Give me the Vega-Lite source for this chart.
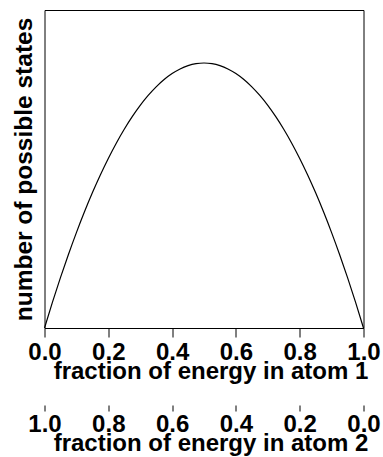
{
  "$schema": "https://vega.github.io/schema/vega-lite/v6.json",
  "autosize": "none",
  "width": 319,
  "height": 318,
  "padding": {"left": 44.5, "top": 10, "right": 19.5, "bottom": 129},
  "background": "white",
  "config": {
    "view": {"stroke": "black", "strokeWidth": 1},
    "font": "Liberation Sans"
  },
  "data": {
    "values": [
      {"x": 0, "y": 0},
      {"x": 0.025, "y": 0.024375},
      {"x": 0.05, "y": 0.0475},
      {"x": 0.075, "y": 0.069375},
      {"x": 0.1, "y": 0.09},
      {"x": 0.125, "y": 0.109375},
      {"x": 0.15, "y": 0.1275},
      {"x": 0.175, "y": 0.144375},
      {"x": 0.2, "y": 0.16},
      {"x": 0.225, "y": 0.174375},
      {"x": 0.25, "y": 0.1875},
      {"x": 0.275, "y": 0.199375},
      {"x": 0.3, "y": 0.21},
      {"x": 0.325, "y": 0.219375},
      {"x": 0.35, "y": 0.2275},
      {"x": 0.375, "y": 0.234375},
      {"x": 0.4, "y": 0.24},
      {"x": 0.425, "y": 0.244375},
      {"x": 0.45, "y": 0.2475},
      {"x": 0.475, "y": 0.249375},
      {"x": 0.5, "y": 0.25},
      {"x": 0.525, "y": 0.249375},
      {"x": 0.55, "y": 0.2475},
      {"x": 0.575, "y": 0.244375},
      {"x": 0.6, "y": 0.24},
      {"x": 0.625, "y": 0.234375},
      {"x": 0.65, "y": 0.2275},
      {"x": 0.675, "y": 0.219375},
      {"x": 0.7, "y": 0.21},
      {"x": 0.725, "y": 0.199375},
      {"x": 0.75, "y": 0.1875},
      {"x": 0.775, "y": 0.174375},
      {"x": 0.8, "y": 0.16},
      {"x": 0.825, "y": 0.144375},
      {"x": 0.85, "y": 0.1275},
      {"x": 0.875, "y": 0.109375},
      {"x": 0.9, "y": 0.09},
      {"x": 0.925, "y": 0.069375},
      {"x": 0.95, "y": 0.0475},
      {"x": 0.975, "y": 0.024375},
      {"x": 1, "y": 0}
    ]
  },
  "layer": [
    {
      "mark": {"type": "line", "color": "black", "strokeWidth": 1.2, "interpolate": "monotone"},
      "encoding": {
        "x": {
          "field": "x", "type": "quantitative",
          "scale": {"domain": [0, 1], "nice": false, "zero": false},
          "axis": {
            "orient": "bottom", "values": [0, 0.2, 0.4, 0.6, 0.8, 1], "format": ".1f",
            "grid": false, "domain": false, "ticks": true, "tickSize": 9, "tickColor": "black", "tickWidth": 1,
            "labelFontSize": 24, "labelFontWeight": "bold", "labelColor": "black", "labelBaseline": "alphabetic", "labelPadding": 22,
            "labelOverlap": false, "labelFlush": false,
            "title": "fraction of energy in atom 1", "titleFontSize": 24, "titleFontWeight": "bold",
            "titleColor": "black", "titleBaseline": "alphabetic", "titleY": 50.5, "titleX": 166
          }
        },
        "y": {
          "field": "y", "type": "quantitative",
          "scale": {"domain": [0, 0.3], "nice": false, "zero": false},
          "axis": {
            "grid": false, "domain": false, "ticks": false, "labels": false,
            "title": "number of possible states", "titleFontSize": 24.5, "titleFontWeight": "bold",
            "titleColor": "black", "titlePadding": 8
          }
        }
      }
    },
    {
      "mark": {"type": "line", "opacity": 0},
      "encoding": {
        "x": {
          "field": "x", "type": "quantitative",
          "scale": {"domain": [0, 1], "nice": false, "zero": false},
          "axis": {
            "orient": "bottom", "offset": 77, "values": [0, 0.2, 0.4, 0.6, 0.8, 1],
            "labelExpr": "format(1 - datum.value, '.1f')",
            "grid": false, "domain": false, "ticks": true, "tickSize": 6, "tickColor": "black", "tickWidth": 1,
            "labelFontSize": 24, "labelFontWeight": "bold", "labelColor": "black", "labelBaseline": "alphabetic", "labelPadding": 20,
            "labelOverlap": false, "labelFlush": false,
            "title": "fraction of energy in atom 2", "titleFontSize": 24, "titleFontWeight": "bold",
            "titleColor": "black", "titleBaseline": "alphabetic", "titleY": 45, "titleX": 166
          }
        },
        "y": {
          "field": "y", "type": "quantitative",
          "scale": {"domain": [0, 0.3], "nice": false, "zero": false},
          "axis": {
            "grid": false, "domain": false, "ticks": false, "labels": false,
            "title": "number of possible states", "titleFontSize": 24.5, "titleFontWeight": "bold",
            "titleColor": "black", "titlePadding": 8
          }
        }
      }
    }
  ],
  "resolve": {"axis": {"x": "independent"}}
}
